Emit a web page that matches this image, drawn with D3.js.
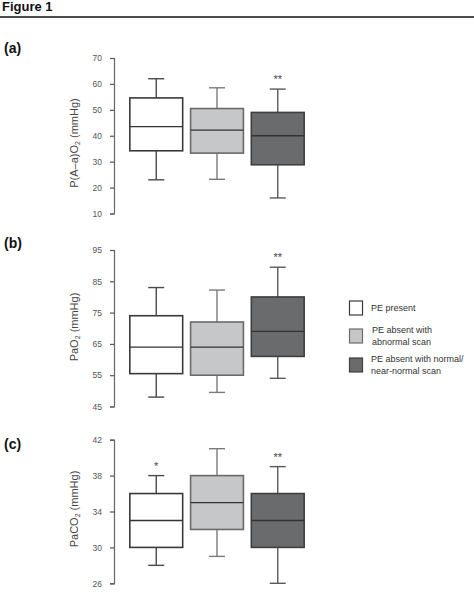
<!DOCTYPE html>
<html><head><meta charset="utf-8">
<script src="https://cdn.jsdelivr.net/npm/d3@7"></script>
<style>body{margin:0;background:#fff;} svg{display:block;font-family:"Liberation Sans",Arial,sans-serif;}</style>
</head><body><svg id="c" width="474" height="602"></svg>
<script>
const groups = ["PE present", "PE absent with abnormal scan", "PE absent with normal/near-normal scan"];
// [whiskerLow, Q1, median, Q3, whiskerHigh]
const aaValues = [[23, 34.2, 43.5, 54.6, 62], [23.2, 33.3, 42.2, 50.5, 58.5], [16, 28.8, 40, 49, 58]];
const pao2Values = [[48, 55.5, 64, 74, 83], [49.5, 55, 64, 72, 82.2], [54, 61, 69, 80, 89.5]];
const paco2Values = [[28, 30, 33, 36, 38], [29, 32, 35, 38, 41], [26, 30, 33, 36, 39]];
const aaTicks = [10, 20, 30, 40, 50, 60, 70];
const pao2Ticks = [45, 55, 65, 75, 85, 95];
const paco2Ticks = [26, 30, 34, 38, 42];
const aaSig = ["", "", "**"];
const pao2Sig = ["", "", "**"];
const paco2Sig = ["*", "", "**"];
const fills = ["#ffffff", "#c6c7c8", "#6a6b6d"];
const strokes = ["#3a3a3a", "#6a6a6a", "#3f3f3f"];
const whiskerColors = ["#4a4a4a", "#7a7a7a", "#5a5a5a"];

const svg = d3.select("#c");
// header
svg.append("text").attr("x", 2).attr("y", 11).attr("font-size", 13).attr("font-weight", "bold").attr("fill", "#111").text("Figure 1");
svg.append("line").attr("x1", 0).attr("x2", 474).attr("y1", 17).attr("y2", 17).attr("stroke", "#111").attr("stroke-width", 1.3);

function panel(opts) {
  const {label, labelY, values, ticks, sig, top, bottom, ylabel, ylabelY} = opts;
  const y = d3.scaleLinear().domain([ticks[0], ticks[ticks.length - 1]]).range([bottom, top]);
  const x = d3.scaleBand().domain(groups).range([128, 306]).paddingInner(0.13).paddingOuter(0.03);
  svg.append("text").attr("x", 4).attr("y", labelY).attr("font-size", 14).attr("font-weight", "bold").attr("fill", "#111").text(label);
  const ax = svg.append("g").attr("transform", "translate(114,0)")
    .call(d3.axisLeft(y).tickValues(ticks).tickSize(4).tickPadding(8).tickFormat(d3.format("d")));
  ax.select(".domain").attr("stroke", "#666").attr("stroke-width", 1.2);
  ax.selectAll(".tick line").attr("stroke", "#555").attr("stroke-width", 1.2);
  ax.selectAll(".tick text").attr("font-size", 8.5).attr("fill", "#555").attr("font-family", "Liberation Sans, Arial, sans-serif");
  // y label
  const t = svg.append("text").attr("transform", `translate(78,${ylabelY}) rotate(-90)`)
    .attr("text-anchor", "middle").attr("font-size", 11).attr("fill", "#444");
  ylabel.forEach(p => {
    const ts = t.append("tspan").text(p.t);
    if (p.sub) ts.attr("font-size", 7).attr("dy", 2);
    else if (p.after) ts.attr("dy", -2);
  });
  groups.forEach((g, i) => {
    const [lo, q1, med, q3, hi] = values[i];
    const x0 = x(g), w = x.bandwidth(), cx = x0 + w / 2;
    const gg = svg.append("g");
    gg.append("line").attr("x1", cx).attr("x2", cx).attr("y1", y(hi)).attr("y2", y(q3)).attr("stroke", whiskerColors[i]).attr("stroke-width", 1.4);
    gg.append("line").attr("x1", cx).attr("x2", cx).attr("y1", y(q1)).attr("y2", y(lo)).attr("stroke", whiskerColors[i]).attr("stroke-width", 1.4);
    [hi, lo].forEach(v => gg.append("line").attr("x1", cx - 8).attr("x2", cx + 8).attr("y1", y(v)).attr("y2", y(v)).attr("stroke", whiskerColors[i]).attr("stroke-width", 1.4));
    gg.append("rect").attr("x", x0).attr("y", y(q3)).attr("width", w).attr("height", y(q1) - y(q3))
      .attr("fill", fills[i]).attr("stroke", strokes[i]).attr("stroke-width", 1.6);
    gg.append("line").attr("x1", x0).attr("x2", x0 + w).attr("y1", y(med)).attr("y2", y(med)).attr("stroke", "#333").attr("stroke-width", 1.3);
    if (sig[i]) svg.append("text").attr("x", cx).attr("y", y(hi) - 6).attr("text-anchor", "middle").attr("font-size", 11).attr("fill", "#444").text(sig[i]);
  });
}

panel({label: "(a)", labelY: 53, values: aaValues, ticks: aaTicks, sig: aaSig, top: 58, bottom: 213.5,
  ylabel: [{t: "P(A–a)O"}, {t: "2", sub: true}, {t: " (mmHg)", after: true}], ylabelY: 143});
panel({label: "(b)", labelY: 248, values: pao2Values, ticks: pao2Ticks, sig: pao2Sig, top: 250, bottom: 406.5,
  ylabel: [{t: "PaO"}, {t: "2", sub: true}, {t: " (mmHg)", after: true}], ylabelY: 327});
panel({label: "(c)", labelY: 449, values: paco2Values, ticks: paco2Ticks, sig: paco2Sig, top: 439.7, bottom: 583.3,
  ylabel: [{t: "PaCO"}, {t: "2", sub: true}, {t: " (mmHg)", after: true}], ylabelY: 509});

// legend
const legendLines = [["PE present"], ["PE absent with", "abnormal scan"], ["PE absent with normal/", "near-normal scan"]];
const legendY = [301, 329, 358];
groups.forEach((g, i) => {
  svg.append("rect").attr("x", 349.5).attr("y", legendY[i]).attr("width", 13).attr("height", 14)
    .attr("fill", fills[i]).attr("stroke", strokes[i]).attr("stroke-width", 1.2);
  const lines = legendLines[i];
  lines.forEach((l, j) => {
    svg.append("text").attr("x", i === 1 ? 372 : 371).attr("y", (lines.length === 1 ? legendY[i] + 10 : legendY[i] + 4 + j * 12))
      .attr("font-size", 9).attr("fill", "#333").text(l);
  });
});
</script></body></html>
